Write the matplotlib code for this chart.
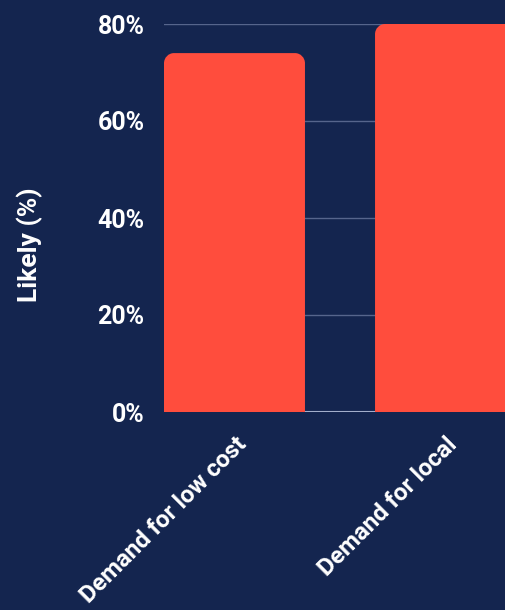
import numpy as np
import matplotlib.pyplot as plt
from matplotlib.path import Path
from matplotlib.patches import PathPatch

categories = ["Demand for low cost", "Demand for local"]
likely = [74, 80]
y_ticks = [0, 20, 40, 60, 80]

bg = "#14254f"
bar_color = "#ff4d3d"

plt.rcParams['font.family'] = ['Roboto', 'DejaVu Sans']

fig = plt.figure(figsize=(5.05, 6.1), dpi=100, facecolor=bg)
ax = fig.add_axes([164 / 505, 1 - 412 / 610, 352 / 505, 388 / 610])
ax.set_facecolor(bg)

x = np.arange(len(categories))
bars = ax.bar(x, likely, width=0.668, color=bar_color, zorder=3)


# swap plain rectangles for ones with rounded top corners
def rounded_top(rect, rx, ry):
    x0, y0 = rect.get_x(), rect.get_y()
    w, h = rect.get_width(), rect.get_height()
    x1, y1 = x0 + w, y0 + h
    k = 0.5523
    verts = [
        (x0, y0), (x0, y1 - ry),
        (x0, y1 - ry + k * ry), (x0 + rx - k * rx, y1), (x0 + rx, y1),
        (x1 - rx, y1),
        (x1 - rx + k * rx, y1), (x1, y1 - ry + k * ry), (x1, y1 - ry),
        (x1, y0), (x0, y0),
    ]
    codes = [Path.MOVETO, Path.LINETO,
             Path.CURVE4, Path.CURVE4, Path.CURVE4,
             Path.LINETO,
             Path.CURVE4, Path.CURVE4, Path.CURVE4,
             Path.LINETO, Path.CLOSEPOLY]
    return Path(verts, codes)


for b in bars:
    p = PathPatch(rounded_top(b, 0.047, 2.1), facecolor=bar_color,
                  edgecolor="none", zorder=3, clip_on=False)
    ax.add_patch(p)
    b.set_visible(False)

ax.set_xlim(-0.334, 1.334)
ax.set_ylim(0, 80)
ax.set_yticks(y_ticks)
ax.set_yticklabels([f"{v}%" for v in y_ticks])
ax.set_xticks(x)
ax.set_xticklabels(categories, rotation=45, ha="right", rotation_mode="anchor")

ax.grid(axis="y", color="#56658c", linewidth=1, zorder=0)
ax.axhline(0, color="#a3aecb", linewidth=1.5, zorder=2)
for s in ax.spines.values():
    s.set_visible(False)
ax.tick_params(length=0, colors="white", labelsize=18, pad=14)
ax.tick_params(axis="x", pad=15, labelsize=17.5)
for lbl in ax.get_xticklabels() + ax.get_yticklabels():
    lbl.set_fontweight("bold")

ax.set_ylabel("Likely (%)", color="white", fontsize=19, fontweight="bold",
              va="center")
ax.yaxis.set_label_coords(-0.381, 0.43)

fig.savefig("out.png", dpi=100, facecolor=bg)
